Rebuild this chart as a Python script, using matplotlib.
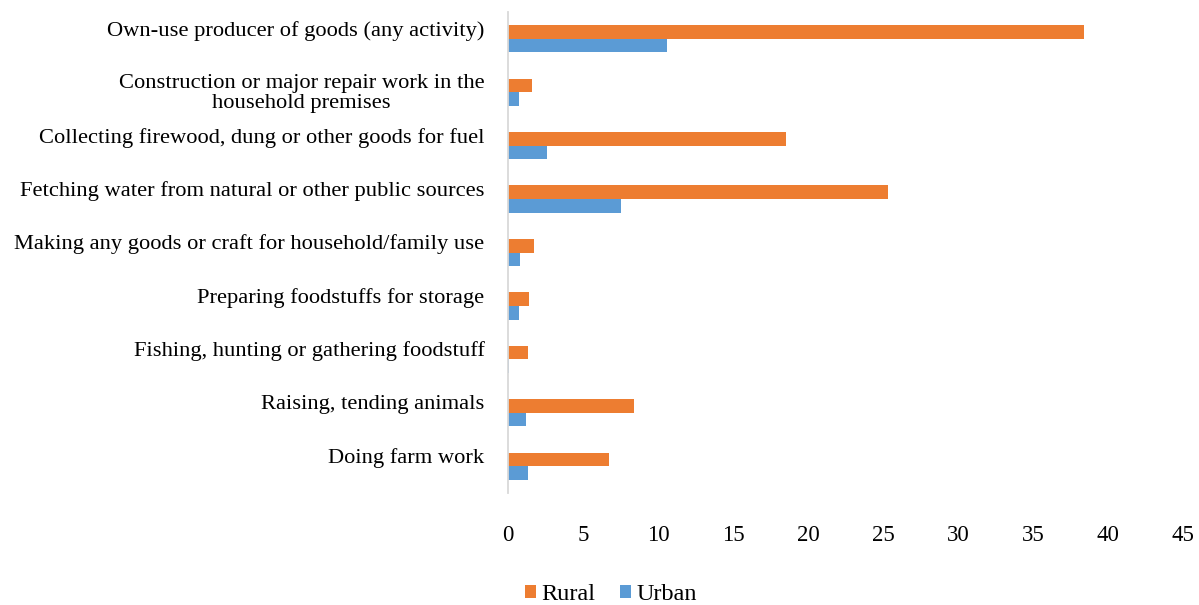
import numpy as np
import matplotlib.pyplot as plt
import matplotlib.transforms as mtransforms

categories = [
    "Own-use producer of goods (any activity)",
    "Construction or major repair work in the\nhousehold premises",
    "Collecting firewood, dung or other goods for fuel",
    "Fetching water from natural or other public sources",
    "Making any goods or craft for household/family use",
    "Preparing foodstuffs for storage",
    "Fishing, hunting or gathering foodstuff",
    "Raising, tending animals",
    "Doing farm work",
]
rural = [38.4, 1.6, 18.5, 25.3, 1.7, 1.4, 1.3, 8.4, 6.7]
urban = [10.6, 0.7, 2.6, 7.5, 0.8, 0.7, 0.05, 1.2, 1.3]
xticks = [0, 5, 10, 15, 20, 25, 30, 35, 40, 45]

orange = "#ED7D31"
blue = "#5B9BD5"

plt.rcParams["font.family"] = ["Liberation Serif", "DejaVu Serif"]

fig = plt.figure(figsize=(11.99, 6.05), dpi=100)
ax = fig.add_axes([508 / 1199, 1 - 493 / 605, (1183 - 508) / 1199, (493 - 12) / 605])

n = len(categories)
y = np.arange(n)[::-1].astype(float)
h = 0.255
ax.barh(y + h / 2, rural, height=h, color=orange, label="Rural")
ax.barh(y - h / 2, urban, height=h, color=blue, label="Urban")

ax.set_xlim(0, 45)
ax.set_ylim(-0.5, n - 0.5)
ax.set_xticks(xticks)
ax.set_xticklabels([str(t) for t in xticks], fontsize=16.5)
ax.set_yticks(y)
ax.set_yticklabels(categories, fontsize=16.2, ha="right", va="top",
                   multialignment="center", linespacing=1.08)
ax.tick_params(axis="both", length=0)
ax.tick_params(axis="x", pad=23)
ax.tick_params(axis="y", pad=17)

# Excel-like: label box of two lines, top aligned
offset = mtransforms.ScaledTranslation(0, 18 / 100, fig.dpi_scale_trans)
for lbl in ax.get_yticklabels():
    lbl.set_transform(lbl.get_transform() + offset)

for side in ["top", "right", "bottom"]:
    ax.spines[side].set_visible(False)
ax.spines["left"].set_color("#D9D9D9")
ax.spines["left"].set_linewidth(1.3)

fig.legend(loc="center", bbox_to_anchor=(611 / 1199, 1 - 595 / 605), ncol=2,
           frameon=False, fontsize=17.5, handlelength=0.45, handleheight=0.45,
           handletextpad=0.25, columnspacing=1.0)

fig.savefig("out.png", dpi=100)
